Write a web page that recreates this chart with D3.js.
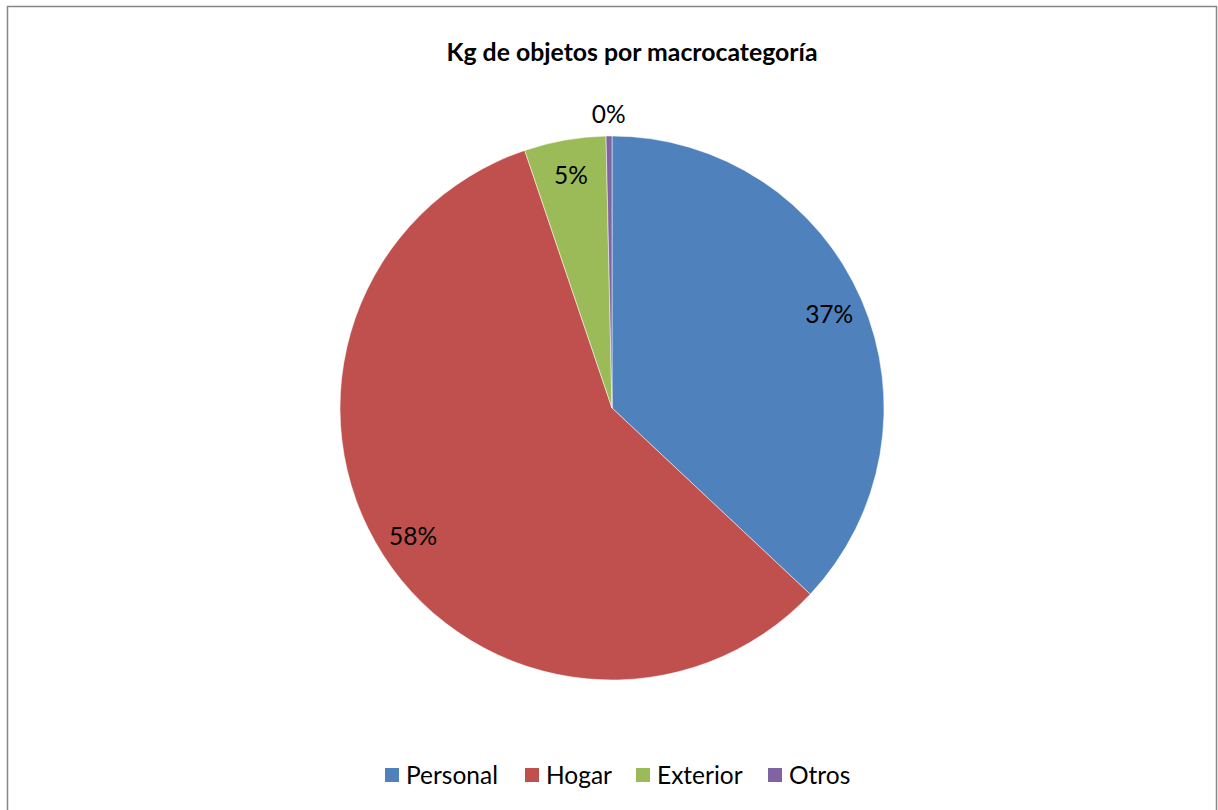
<!DOCTYPE html>
<html>
<head>
<meta charset="utf-8">
<script src="https://cdn.jsdelivr.net/npm/d3@7"></script>
<style>
  body { margin: 0; background: #fff; }
  svg text { font-family: Lato, "Open Sans", sans-serif; fill: #000; }
</style>
</head>
<body>
<div id="chart"></div>
<script>
var categories = ["Personal", "Hogar", "Exterior", "Otros"],
    values = [37.0, 57.8, 4.85, 0.35],
    colors = ["#4F81BD", "#C0504D", "#9BBB59", "#8064A2"],
    title = "Kg de objetos por macrocategoría";

var width = 1218,
    height = 810,
    cx = 612, cy = 408,
    radius = 272;

var svg = d3.select("#chart").append("svg")
    .attr("width", width)
    .attr("height", height);

// Chart area border
svg.append("rect")
    .attr("x", 7.5).attr("y", 6.5)
    .attr("width", 1209).attr("height", 812)
    .attr("fill", "#fff")
    .attr("stroke", "#868686")
    .attr("stroke-width", 1.5);

svg.append("text")
    .attr("x", 632).attr("y", 61)
    .attr("text-anchor", "middle")
    .style("font-weight", "bold")
    .style("font-size", "24.8px")
    .text(title);

var total = d3.sum(values);
var pct = function(v) { return Math.round(v / total * 100) + "%"; };

var pie = d3.pie().sort(null).value(function(d) { return d; });
var arcs = pie(values);

var arc = d3.arc().innerRadius(0).outerRadius(radius);
var labelArc = d3.arc().innerRadius(radius * 0.87).outerRadius(radius * 0.87);
var outerArc = d3.arc().innerRadius(radius + 22).outerRadius(radius + 22);

var g = svg.append("g")
    .attr("transform", "translate(" + cx + "," + cy + ")");

g.selectAll("path.slice")
    .data(arcs)
  .enter().append("path")
    .attr("class", "slice")
    .attr("d", arc)
    .attr("fill", function(d, i) { return colors[i]; })
    .attr("stroke", "#fff")
    .attr("stroke-width", 0.5);

g.selectAll("text.label")
    .data(arcs)
  .enter().append("text")
    .attr("class", "label")
    .attr("transform", function(d) {
      // tiny slices get their label outside the pie
      var small = (d.endAngle - d.startAngle) < 0.05;
      var c = small ? outerArc.centroid(d) : labelArc.centroid(d);
      return "translate(" + c[0] + "," + c[1] + ")";
    })
    .attr("text-anchor", "middle")
    .attr("dy", "0.35em")
    .style("font-size", "24.5px")
    .text(function(d) { return pct(d.value); });

// Legend
var legendX = [385, 525, 636, 768];
var legend = svg.append("g").attr("class", "legend");
categories.forEach(function(c, i) {
  legend.append("rect")
    .attr("x", legendX[i]).attr("y", 768)
    .attr("width", 14).attr("height", 14)
    .attr("fill", colors[i]);
  legend.append("text")
    .attr("x", legendX[i] + 21).attr("y", 784)
    .style("font-size", "24.5px")
    .text(c);
});
</script>
</body>
</html>
